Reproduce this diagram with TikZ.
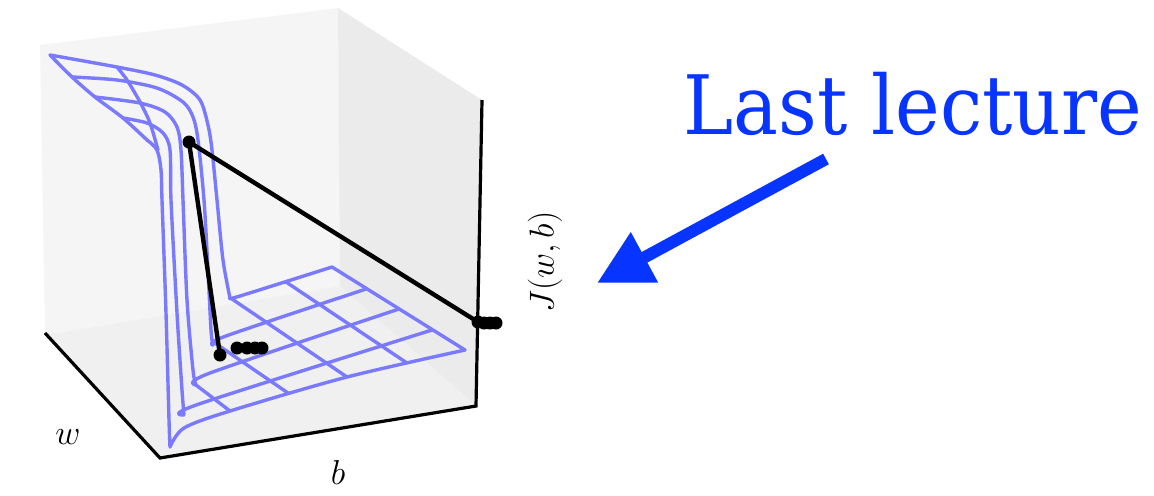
\documentclass[tikz,border=0pt]{standalone}
\usepackage{fontspec}
\newfontfamily\lecturefont{DejaVu Serif}[FakeStretch=0.92]
\usetikzlibrary{arrows.meta}
\definecolor{wireblue}{RGB}{122,122,255}
\definecolor{noteblue}{RGB}{8,52,255}
\definecolor{leftpane}{RGB}{245,245,245}
\definecolor{rightpane}{RGB}{235,235,235}
\definecolor{floorpane}{RGB}{240,240,240}
\begin{document}
\begin{tikzpicture}[x=0.5pt,y=-0.5pt,
    wire/.style={draw=wireblue,line width=1.7pt,line cap=round,line join=round},
    axis/.style={draw=black,line width=1.6pt},
    descent/.style={draw=black,line width=2.2pt},
    dot/.style={circle,fill=black,inner sep=0pt,minimum size=6.5pt},
    lbl/.style={font=\fontsize{16}{16}\selectfont}]
  \useasboundingbox (0,0) rectangle (1154,495);
  % panes of the box
  \fill[leftpane] (40,45) -- (338,8) -- (340,286) -- (45,335) -- cycle;
  \fill[rightpane] (338,8) -- (482,100) -- (476,406) -- (340,286) -- cycle;
  \fill[floorpane] (45,335) -- (340,286) -- (476,406) -- (160,458) -- cycle;
  % wireframe
  \draw[wire] plot[smooth] coordinates {(50,55) (117,67) (155,75) (182,85) (200,100) (208,125) (212,150) (217,200) (223,260) (230,298)}
    plot[smooth] coordinates {(230,298) (240,296) (332,267)};
  \draw[wire] plot[smooth] coordinates {(72,77) (117,80) (157,88) (183,102) (193,117) (198,140) (204,200) (208,270) (211,330) (213,345)}
    plot[smooth] coordinates {(213,345) (226,336) (366,289)};
  \draw[wire] plot[smooth] coordinates {(95,97) (140,103) (165,112) (177,127) (181,150) (183,200) (187,300) (193,370) (196,385)}
    plot[smooth] coordinates {(196,385) (210,373) (399,309)};
  \draw[wire] plot[smooth] coordinates {(123,118) (147,123) (163,133) (170,150) (171,200) (177,313) (182,390) (184,415)}
    plot[smooth] coordinates {(184,415) (199,404) (432,330)};
  \draw[wire] plot[smooth] coordinates {(147,140) (157,150) (161,170) (162,200) (166,313) (169,420) (170,447)}
    plot[smooth] coordinates {(170,447) (184,428) (230,411) (347,377) (465,350)};
  \draw[wire] plot[smooth] coordinates {(50,55) (72,77) (95,97) (123,118) (147,140)};
  \draw[wire] plot[smooth] coordinates {(117,67) (127,80) (140,102) (150,123) (158,150)};
  \draw[wire] (332,267) -- (465,350);
  \draw[wire] (407,363) -- (286,282);
  \draw[wire] (347,377) -- (232,299);
  \draw[wire] (288,393) -- (212,341);
  \draw[wire] (230,411) -- (196,385);
  % axes
  \coordinate (wend) at (45,333);
  \coordinate (corner) at (160,458);
  \coordinate (bend) at (476,406);
  \coordinate (zend) at (482,100);
  \draw[axis] (wend) -- (corner) -- (bend) -- (zend);
  \node[lbl] (wlabel) at (68,437) {$w$};
  \node[lbl] (blabel) at (338,472) {$b$};
  \node[lbl,rotate=90] (jlabel) at (545,262) {$J(w,b)$};
  % descent steps
  \node[dot] (start) at (189,142) {};
  \node[dot] (turn) at (220,355) {};
  \node[dot] (hit) at (478,322) {};
  \draw[descent] (start.center) -- (turn.center);
  \draw[descent] (start.center) -- (hit.center);
  \foreach \x in {237,247,255,262}
    \node[dot] at (\x,348) {};
  \foreach \x in {484,490,496}
    \node[dot] at (\x,323) {};
  % note
  \node[anchor=base west,inner sep=0pt,text=noteblue,font=\lecturefont\fontsize{41}{41}\selectfont] (lecture) at (683,134) {Last lecture};
  \coordinate (tail) at (826,159);
  \coordinate (tip) at (597,283);
  \draw[noteblue,line width=6pt,-{Triangle[length=27pt,width=27pt]}] (tail) -- (tip);
\end{tikzpicture}
\end{document}
